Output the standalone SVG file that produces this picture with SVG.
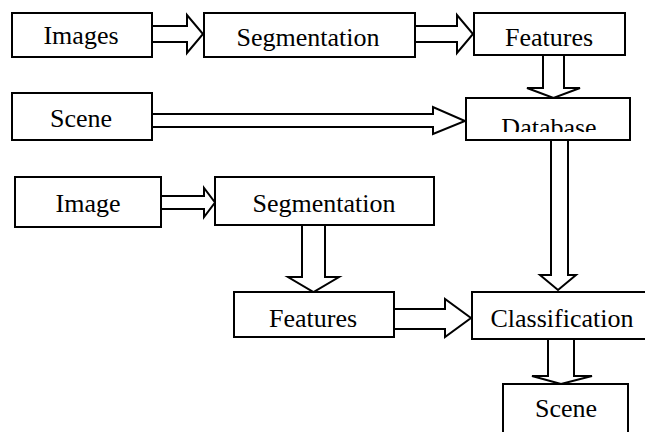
<svg xmlns="http://www.w3.org/2000/svg" width="645" height="432" viewBox="0 0 645 432">
<style>
.box{fill:#fff;stroke:#000;stroke-width:2}
.arr{fill:#fff;stroke:#000;stroke-width:2;stroke-linejoin:miter}
.t{font-family:'Liberation Serif','Times New Roman',serif;font-size:26px;fill:#000;text-anchor:middle}
</style>
<defs>
<clipPath id="dbclip"><rect x="466" y="98" width="164" height="34"/></clipPath>
</defs>
<rect width="645" height="432" fill="#fff"/>
<g id="connectors">
<path class="arr" d="M152,26 H187 V15 L203,34 L187,53 V42 H152"/>
<path class="arr" d="M415,26 H457 V15 L473,34 L457,53 V42 H415"/>
<path class="arr" d="M543,55 V88 H527 L553.5,98 L580,88 H564 V55"/>
<path class="arr" d="M152,114 H433 V107 L465,121 L433,134 V127 H152"/>
<path class="arr" d="M551,140 V275 H540 L558,290 L576,275 H568 V140"/>
<path class="arr" d="M161,196 H204 V188 L215,202.5 L204,217 V209 H161"/>
<path class="arr" d="M302,225 V277 H288 L313.5,292 L339,277 H325 V225"/>
<path class="arr" d="M394,309 H445 V299 L471,318 L445,337 V329 H394"/>
<path class="arr" d="M548,339 V376 H532 L561,384 L592,376 H574 V339"/>
</g>
<g id="images"><rect class="box" x="12" y="13" width="140" height="44"/><text class="t" x="81" y="44">Images</text></g>
<g id="segmentation1"><rect class="box" x="204" y="13" width="211" height="44"/><text class="t" x="308" y="46">Segmentation</text></g>
<g id="features1"><rect class="box" x="474" y="13" width="151" height="42"/><text class="t" x="549" y="46">Features</text></g>
<g id="scene1"><rect class="box" x="12" y="93" width="140" height="47"/><text class="t" x="81" y="127">Scene</text></g>
<g id="database"><rect class="box" x="466" y="98" width="164" height="42"/><text class="t" x="549" y="136" clip-path="url(#dbclip)">Database</text></g>
<g id="image"><rect class="box" x="15" y="177" width="146" height="50"/><text class="t" x="88" y="212">Image</text></g>
<g id="segmentation2"><rect class="box" x="215" y="177" width="219" height="48"/><text class="t" x="324" y="212">Segmentation</text></g>
<g id="features2"><rect class="box" x="234" y="292" width="160" height="45"/><text class="t" x="313" y="327">Features</text></g>
<g id="classification"><rect class="box" x="472" y="292" width="180" height="47"/><text class="t" x="562" y="327">Classification</text></g>
<g id="scene2"><rect class="box" x="503" y="384" width="125" height="60"/><text class="t" x="566" y="417">Scene</text></g>
</svg>
